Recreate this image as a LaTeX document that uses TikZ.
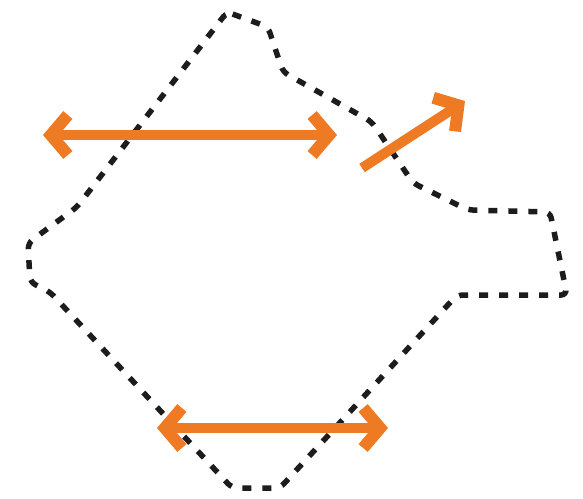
\documentclass[tikz,border=0pt]{standalone}
\usepackage{xcolor}
\definecolor{cOrange}{HTML}{EE7A24}
\definecolor{cInk}{HTML}{1C1C1C}
\usetikzlibrary{arrows.meta}
\tikzset{
  outline/.style={draw=cInk,line width=5.5pt,dash pattern=on 9pt off 11pt,
    rounded corners=6pt},
  barb/.tip={Straight Barb[length=17pt,width=40pt,line width=12pt]},
  move-arrow/.style={draw=cOrange,line width=10pt,barb-barb},
  push-arrow/.style={draw=cOrange,line width=10pt,-barb},
}
\begin{document}
\begin{tikzpicture}[x=1pt,y=-1pt]
  \useasboundingbox (0,0) rectangle (583,498);
  % dashed outline of the area
  \draw[outline] (227,12) -- (268,27) -- (283,72) -- (372,122) -- (413,183)
    -- (468,210) -- (550,212) -- (567,295) -- (457,295) -- (280,488)
    -- (232,488) -- (50,292) -- (30,282) -- (28,243) -- (77,207) -- cycle;
  % arrow ends
  \coordinate (top-l) at (43,135);
  \coordinate (top-r) at (337,135);
  \coordinate (bot-l) at (157,428);
  \coordinate (bot-r) at (388,428);
  \coordinate (out-s) at (362,168);
  \coordinate (out-e) at (465,101);
  \draw[move-arrow] (top-l) -- (top-r);
  \draw[move-arrow] (bot-l) -- (bot-r);
  \draw[push-arrow] (out-s) -- (out-e);
\end{tikzpicture}
\end{document}
